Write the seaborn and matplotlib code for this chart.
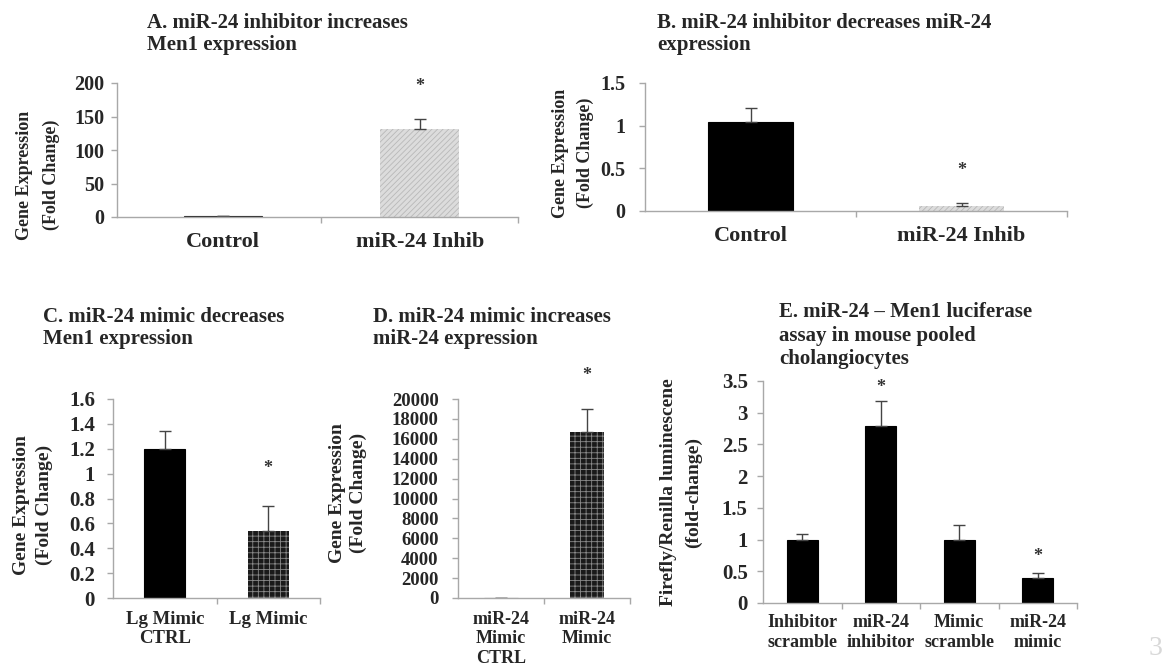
import numpy as np
import pandas as pd
import seaborn as sns
import matplotlib.pyplot as plt
from matplotlib.ticker import FixedLocator, FuncFormatter

W, H = 1166, 665

# A. Men1 after inhibitor
a_groups = ['Control', 'miR-24 Inhib']
a_values = [1.0, 131.0]
a_errors = [0.5, 16.0]
a_stars = [None, 195.0]
a_yticks = [0, 50, 100, 150, 200]

# B. miR-24 after inhibitor
b_groups = ['Control', 'miR-24 Inhib']
b_values = [1.04, 0.06]
b_errors = [0.17, 0.03]
b_stars = [None, 0.48]
b_yticks = [0, 0.5, 1, 1.5]

# C. Men1 after mimic
c_groups = ['Lg Mimic\nCTRL', 'Lg Mimic']
c_values = [1.20, 0.54]
c_errors = [0.14, 0.20]
c_stars = [None, 1.04]
c_yticks = [0, 0.2, 0.4, 0.6, 0.8, 1, 1.2, 1.4, 1.6]

# D. miR-24 after mimic
d_groups = ['miR-24\nMimic\nCTRL', 'miR-24\nMimic']
d_values = [1.0, 16700.0]
d_errors = [0.0, 2300.0]
d_stars = [None, 22400.0]
d_yticks = [0, 2000, 4000, 6000, 8000, 10000, 12000, 14000, 16000, 18000, 20000]

# E. luciferase assay
e_groups = ['Inhibitor\nscramble', 'miR-24\ninhibitor', 'Mimic\nscramble', 'miR-24\nmimic']
e_values = [1.0, 2.79, 1.0, 0.40]
e_errors = [0.08, 0.40, 0.23, 0.08]
e_stars = [None, 3.40, None, 0.74]
e_yticks = [0, 0.5, 1, 1.5, 2, 2.5, 3, 3.5]

sns.set_style("white")
plt.rcParams['font.family'] = ['Liberation Serif', 'DejaVu Serif']
plt.rcParams['font.weight'] = 'bold'
plt.rcParams['hatch.linewidth'] = 0.6

AXIS_GRAY = '#a8a8a8'

fig = plt.figure(figsize=(W / 100, H / 100), dpi=100)


def px_axes(x0, y0, x1, y1):
    return fig.add_axes([x0 / W, 1 - y1 / H, (x1 - x0) / W, (y1 - y0) / H])


def title(x, y, text, size=15, ls=1.15):
    fig.text(x / W, 1 - y / H, text, ha='left', va='top', fontsize=size,
             fontweight='bold', linespacing=ls)


def panel(box, groups, values, errors, stars, yticks, faces, hatches, edges,
          ylabel, lab_xy, lab_size, lab_ls, ytick_size, xtick_size,
          ypad, xpad, xlim=None):
    x0, y0, x1, y1 = box
    ax = px_axes(*box)
    df = pd.DataFrame({'group': groups, 'value': values})
    sns.barplot(data=df, x='group', y='value', hue='group',
                palette=dict(zip(groups, faces)), legend=False,
                width=0.4, errorbar=None, ax=ax, saturation=1)
    for patch, h, ec in zip(ax.patches, hatches, edges):
        patch.set_hatch(h)
        patch.set_edgecolor(ec)
        patch.set_linewidth(0.8 if h is None else 0)
    n = len(groups)
    ax.errorbar(np.arange(n), values, yerr=[np.zeros(n), errors], fmt='none',
                ecolor='#444444', elinewidth=1, capsize=4, capthick=1)
    for i, s in enumerate(stars):
        if s is not None:
            ax.text(i, s, '*', ha='center', va='center', fontsize=13,
                    color='#333333', clip_on=False)
    ax.set_ylim(yticks[0], yticks[-1])
    ax.yaxis.set_major_locator(FixedLocator(yticks))
    ax.yaxis.set_major_formatter(FuncFormatter(lambda v, p: '{:g}'.format(v)))
    if xlim is None:
        xlim = (-0.5, n - 0.5)
    ax.set_xlim(*xlim)
    ax.xaxis.set_minor_locator(FixedLocator(np.arange(n) + 0.5))
    ax.tick_params(axis='x', which='major', length=0, labelsize=xtick_size,
                   pad=xpad)
    ax.tick_params(axis='x', which='minor', length=4, width=1,
                   color=AXIS_GRAY, direction='out', bottom=True)
    ax.tick_params(axis='y', length=4, width=1, color=AXIS_GRAY,
                   direction='out', left=True, labelsize=ytick_size, pad=ypad)
    for lab in ax.get_xticklabels() + ax.get_yticklabels():
        lab.set_fontweight('bold')
    sns.despine(ax=ax)
    for sp in ('left', 'bottom'):
        ax.spines[sp].set_color(AXIS_GRAY)
        ax.spines[sp].set_linewidth(1)
    ax.set_xlabel('')
    ax.set_ylabel(ylabel, fontsize=lab_size, fontweight='bold', va='center',
                  linespacing=lab_ls)
    lx, ly = lab_xy
    ax.yaxis.set_label_coords((lx - x0) / (x1 - x0), (y1 - ly) / (y1 - y0))
    return ax


GE = 'Gene Expression\n(Fold Change)'
LIGHT = '#dcdcdc'
DARK = '#1a1a1a'

panel((117, 83, 518, 217), a_groups, a_values, a_errors, a_stars, a_yticks,
      ['#222222', LIGHT], [None, '//////'], ['#222222', '#b8b8b8'],
      GE, (38, 175), 13, 1.75, 14.5, 16, 5, 11, xlim=(-0.54, 1.5))
title(147, 13, 'A. miR-24 inhibitor increases\nMen1 expression')

panel((645, 83, 1067, 211), b_groups, b_values, b_errors, b_stars, b_yticks,
      ['#000000', LIGHT], [None, '//////'], ['#000000', '#b8b8b8'],
      GE, (573, 153), 13, 1.62, 14.5, 16, 10, 11)
title(657, 13, 'B. miR-24 inhibitor decreases miR-24\nexpression')

panel((113, 399, 320, 598), c_groups, c_values, c_errors, c_stars, c_yticks,
      ['#000000', DARK], [None, '+++'], ['#000000', '#8a8a8a'],
      GE, (33, 505), 14, 1.48, 15, 13.5, 9, 9)
title(43, 307, 'C. miR-24 mimic decreases\nMen1 expression')

panel((458, 399, 630, 598), d_groups, d_values, d_errors, d_stars, d_yticks,
      ['#222222', DARK], [None, '+++'], ['#222222', '#8a8a8a'],
      GE, (348, 493), 14, 1.35, 13.5, 13, 10, 9)
title(373, 307, 'D. miR-24 mimic increases\nmiR-24 expression')

panel((763, 381, 1077, 603), e_groups, e_values, e_errors, e_stars, e_yticks,
      ['#000000'] * 4, [None] * 4, ['#000000'] * 4,
      'Firefly/Renilla luminescene\n(fold-change)', (681, 492), 14, 1.62,
      15, 13, 7, 8)
title(779, 302, 'E. miR-24 \u2013 Men1 luciferase\nassay in mouse pooled\ncholangiocytes', ls=1.25)

# slide page number in the corner
fig.text(1162 / W, 1 - 655 / H, '3', fontsize=20, color='#d8d8d8',
         ha='right', va='baseline', fontweight='normal')

fig.savefig('out.png', dpi=100)
